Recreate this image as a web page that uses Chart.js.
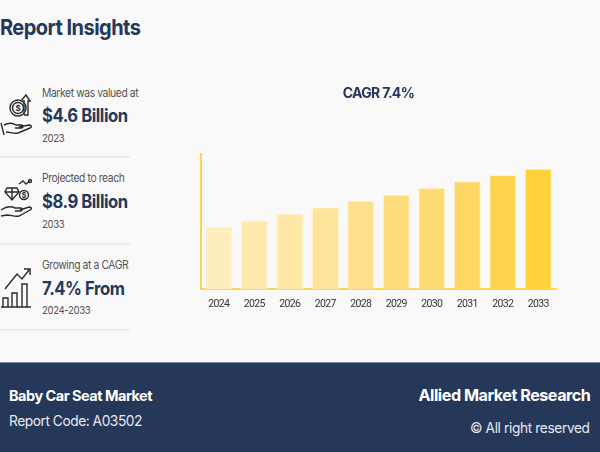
<!DOCTYPE html>
<html>
<head>
<meta charset="utf-8">
<script src="https://cdn.jsdelivr.net/npm/chart.js@4"></script>
<style>
html, body { margin: 0; padding: 0; }
body { width: 600px; height: 452px; background: #f9f9f9; position: relative; overflow: hidden; font-family: Inter, "Open Sans", sans-serif; }
.txt { position: absolute; white-space: nowrap; transform-origin: left top; }
.title { left: 0; top: 14px; font-size: 22px; font-weight: 700; color: #263859; letter-spacing: -0.6px; transform: scaleX(0.91); }
.small { left: 42px; font-size: 11.5px; color: #555; letter-spacing: -0.45px; transform: scaleX(0.9); }
.big { left: 42px; font-size: 18.5px; font-weight: 700; color: #263859; letter-spacing: -0.5px; transform: scaleX(0.9); }
.year { left: 42px; font-size: 11px; color: #555; letter-spacing: -0.4px; transform: scaleX(0.87); }
.rule { position: absolute; left: 0; width: 130px; height: 2px; background: #ececec; }
.icon { position: absolute; left: 0; fill: none; stroke: #2b2b2b; stroke-width: 1.4; }
.icon text { font-size: 8px; font-weight: 700; fill: #2b2b2b; stroke: none; text-anchor: middle; }
#footer { position: absolute; left: 0; top: 362px; width: 600px; height: 89px; background: #263859; border-top: 1px solid #7f89a0; }
#footer .txt { color: #fff; }
#footer .right { transform-origin: right top; }
#chartBox { position: absolute; left: 190px; top: 80px; width: 384px; height: 232px; }
</style>
</head>
<body>
<div class="txt title">Report Insights</div>

<svg class="icon" style="top:92px" width="34" height="46" viewBox="0 0 34 46">
  <circle cx="18" cy="16" r="8"/><circle cx="18" cy="16" r="5.5"/>
  <text x="18" y="19">$</text>
  <path d="M24 22V8M21 9l5-6 4 6h-2v14h-4"/>
  <path d="M1 31l3 12M4 33c6-3 9-2 12 0h6c2 1 1 3-1 3h-6M19 35l10-2c3 0 3 2 1 3l-12 5c-4 1-8-1-12-1"/>
</svg>
<div class="txt small" style="top:86px">Market was valued at</div>
<div class="txt big" style="top:104px">$4.6 Billion</div>
<div class="txt year" style="top:131px">2023</div>
<div class="rule" style="top:156px"></div>

<svg class="icon" style="top:178px" width="34" height="46" viewBox="0 0 34 46">
  <path d="M7 10h10l2 4-7 8-7-8zM5 14h14M12 10v12"/>
  <circle cx="24" cy="17" r="4.5"/>
  <text x="24" y="20" style="font-size:7px">$</text>
  <path d="M19 6l4-3 3 3 4-3"/><circle cx="30" cy="3" r="1.5"/>
  <path d="M1 32c6-4 10-4 14-2h6c2 1 1 3-1 3h-5M20 32l9-3c3 0 3 2 1 3l-11 6c-4 1-8-1-12-1l-6 1"/>
</svg>
<div class="txt small" style="top:171px">Projected to reach</div>
<div class="txt big" style="top:190px">$8.9 Billion</div>
<div class="txt year" style="top:217px">2033</div>
<div class="rule" style="top:243px"></div>

<svg class="icon" style="top:262px" width="34" height="48" viewBox="0 0 34 48">
  <path d="M1 45h30M3 45V36h5v9M12 45V31h5v14M22 45V22h5v23"/>
  <path d="M5 27L17 12l5 5 7-9M24 7h6v6"/>
</svg>
<div class="txt small" style="top:258px">Growing at a CAGR</div>
<div class="txt big" style="top:277px">7.4% From</div>
<div class="txt year" style="top:303px">2024-2033</div>
<div class="rule" style="top:329px"></div>

<div id="chartBox"><canvas id="myBarChart" width="384" height="232"></canvas></div>

<div id="footer">
  <div class="txt" style="left:9px;top:24px;font-size:14.5px;font-weight:700;letter-spacing:-0.5px">Baby Car Seat Market</div>
  <div class="txt" style="left:9px;top:49px;font-size:14.5px;letter-spacing:-0.5px;color:#e4e7ee;transform:scaleX(0.95)">Report Code: A03502</div>
  <div class="txt right" style="right:10px;top:22px;font-size:16.5px;font-weight:700;letter-spacing:-0.5px;transform:scaleX(0.98)">Allied Market Research</div>
  <div class="txt right" style="right:10px;top:56px;font-size:14.5px;letter-spacing:-0.4px;color:#e4e7ee;transform:scaleX(0.945)">© All right reserved</div>
</div>

<script>
// Values, USD billion
const years = ["2024", "2025", "2026", "2027", "2028", "2029", "2030", "2031", "2032", "2033"];
const marketValues = [4.6, 5.08, 5.58, 6.05, 6.53, 7.0, 7.48, 7.98, 8.43, 8.9];
const barColors = ["#feeebc", "#feeaaf", "#fee8a5", "#fee49a", "#fee08c", "#fedc7e", "#fedb72", "#fed765", "#fed34f", "#ffd13a"];

// Reference text is narrow, tighten the canvas text a bit
const tightText = {
	id: "tightText",
	beforeDraw(chart) {
		chart.ctx.letterSpacing = "-0.7px";
	},
};

document.addEventListener("DOMContentLoaded", function () {
	const ctx = document.getElementById("myBarChart");

	new Chart(ctx, {
		type: "bar",
		data: {
			labels: years,
			datasets: [
				{
					label: "Market value",
					data: marketValues,
					backgroundColor: barColors,
					borderColor: "#fff3cf",
					borderWidth: 1,
					barPercentage: 0.76,
					categoryPercentage: 1,
				},
			],
		},
		plugins: [tightText],
		options: {
			responsive: false,
			animation: false,
			layout: { padding: { left: 11, right: 18, top: 0, bottom: 0 } },
			plugins: {
				legend: { display: false },
				tooltip: { enabled: false },
				title: {
					display: true,
					text: "CAGR 7.4%",
					color: "#263859",
					font: { family: "Inter", size: 14, weight: "700" },
					padding: { top: 5, bottom: 52 },
				},
			},
			scales: {
				x: {
					grid: { display: false },
					border: { color: "#ffd54f", width: 2 },
					ticks: { color: "#333", font: { family: "Roboto", size: 10.5 }, padding: 1, maxRotation: 0 },
				},
				y: {
					min: 0,
					max: 10,
					grid: { display: false },
					border: { color: "#ffd54f", width: 2 },
					ticks: { display: false },
					afterFit(axis) {
						axis.width = 0;
					},
				},
			},
		},
	});
});
</script>
</body>
</html>
